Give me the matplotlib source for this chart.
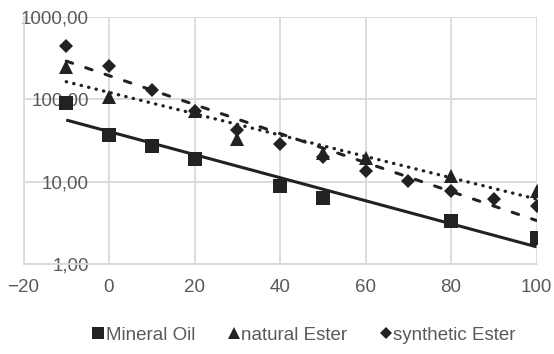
import numpy as np
import matplotlib
matplotlib.use("Agg")
import matplotlib.pyplot as plt
from matplotlib.lines import Line2D
from matplotlib.ticker import FixedLocator

plt.rcParams['font.family'] = ['Liberation Sans', 'DejaVu Sans']

# -------- DATA --------
mineral_x = [-10, 0, 10, 20, 40, 50, 80, 100]
mineral_y = [90, 37, 27, 18.6, 8.9, 6.4, 3.3, 2.05]

natural_x = [-10, 0, 20, 30, 50, 60, 80, 100]
natural_y = [250, 107, 72, 33, 22, 19.5, 11.8, 7.8]

synth_x = [-10, 0, 10, 20, 30, 40, 50, 60, 70, 80, 90, 100]
synth_y = [450, 255, 129, 72, 43, 28.6, 20, 13.6, 10.3, 7.8, 6.2, 5.1]

x_ticks = [-20, 0, 20, 40, 60, 80, 100]
y_ticks = [1, 10, 100, 1000]
y_labels = ["1,00", "10,00", "100,00", "1000,00"]

INK = "#222222"
GRID = "#d9d9d9"
TXT = "#595959"

# -------- FIGURE --------
fig = plt.figure(figsize=(5.54, 3.54), dpi=100)
ax = fig.add_axes([23.5 / 554, 1 - 264 / 354, 513 / 554, 247 / 354])

def trend(xs, ys):
    # exponential trendline (least squares on log values)
    k, b = np.polyfit(xs, np.log(ys), 1)
    xx = np.linspace(min(xs), max(xs), 50)
    return xx, np.exp(k * xx + b)

xx, yy = trend(mineral_x, mineral_y)
ax.plot(xx, yy, color=INK, lw=2.2, solid_capstyle='butt')
xx, yy = trend(natural_x, natural_y)
ax.plot(xx, yy, color=INK, lw=2.4, linestyle=(0, (0.1, 2.2)), dash_capstyle='round')
xx, yy = trend(synth_x, synth_y)
ax.plot(xx, yy, color=INK, lw=2.2, linestyle=(0, (2.2, 4.5)), dash_capstyle='round')

ax.plot(mineral_x, mineral_y, 's', color=INK, ms=10.5, mew=0)
ax.plot(natural_x, natural_y, '^', color=INK, ms=9.5, mew=0)
ax.plot(synth_x, synth_y, 'D', color=INK, ms=7, mew=0)

# -------- AXES --------
ax.set_yscale('log')
ax.set_xlim(-20, 100)
ax.set_ylim(1, 1000)
ax.xaxis.set_major_locator(FixedLocator(x_ticks))
ax.yaxis.set_major_locator(FixedLocator(y_ticks))
ax.yaxis.set_minor_locator(FixedLocator([]))
ax.set_yticklabels(y_labels)
ax.grid(True, color=GRID, lw=1.3)
ax.set_axisbelow(True)
for s in ['top', 'right']:
    ax.spines[s].set_visible(False)
for s in ['left', 'bottom']:
    ax.spines[s].set_color(GRID)
    ax.spines[s].set_linewidth(1.3)
ax.tick_params(axis='both', length=0, labelsize=13.5, labelcolor=TXT)
ax.tick_params(axis='y', pad=-47)
ax.tick_params(axis='x', pad=11)

# -------- LEGEND --------
handles = [
    Line2D([], [], ls='none', marker='s', color=INK, ms=8, mew=0),
    Line2D([], [], ls='none', marker='^', color=INK, ms=8.5, mew=0),
    Line2D([], [], ls='none', marker='D', color=INK, ms=6, mew=0),
]
labels = ["Mineral Oil", "natural Ester", "synthetic Ester"]
fig.legend(handles, labels, loc='center', bbox_to_anchor=(0.55, 1 - 335 / 354),
           ncol=3, frameon=False, fontsize=13.5, labelcolor=TXT,
           handlelength=0.5, handletextpad=0.15, columnspacing=1.8)

fig.savefig("out.png", dpi=100)
